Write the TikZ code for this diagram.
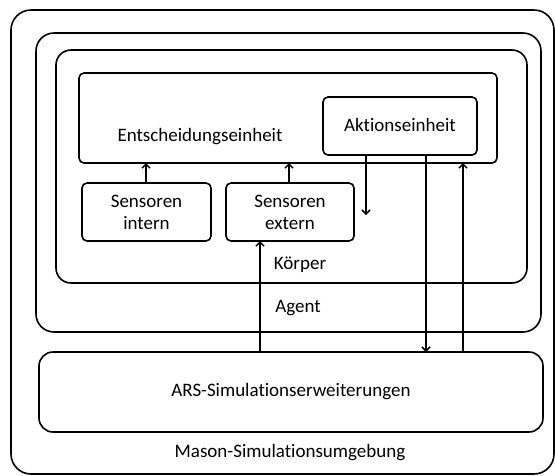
\documentclass[tikz,border=0pt]{standalone}
\usepackage{fontspec}
\setmainfont[Ligatures=NoCommon]{Carlito}
\usetikzlibrary{arrows.meta}
\begin{document}
\begin{tikzpicture}[x=1pt,y=-1pt,
  box/.style={draw,line width=1.6pt,rectangle,inner sep=0pt,outer sep=0pt},
  txt/.style={font=\fontsize{19}{22}\selectfont,inner sep=0pt},
  arr/.style={line width=1.5pt,-{Straight Barb[length=4pt,width=8pt,line width=1.5pt]}}]
\useasboundingbox (0,0) rectangle (555,475);
% boxes
\node[box,rounded corners=20pt,minimum width=543pt,minimum height=464pt] (mason) at (282.5,242) {};
\node[box,rounded corners=18pt,minimum width=505pt,minimum height=299pt] (agent) at (288.5,182.5) {};
\node[box,rounded corners=15pt,minimum width=471pt,minimum height=233pt] (koerper) at (291.5,166.5) {};
\node[box,rounded corners=5pt,minimum width=418pt,minimum height=90pt] (entsch) at (288,118) {};
\node[box,rounded corners=5pt,minimum width=154pt,minimum height=58pt] (aktion) at (400,126) {};
\node[box,rounded corners=5pt,minimum width=129pt,minimum height=58pt] (sint) at (146.5,212) {};
\node[box,rounded corners=5pt,minimum width=128pt,minimum height=58pt] (sext) at (290,212) {};
\node[box,rounded corners=14pt,minimum width=504pt,minimum height=80pt] (ars) at (291,392) {};
% labels
\node[txt] (entschlab) at (200,137) {Entscheidungseinheit};
\node[txt] (aktionlab) at (400,125) {Aktionseinheit};
\node[txt,align=center] (sintlab) at (146.5,212) {Sensoren\\intern};
\node[txt,align=center] (sextlab) at (290,212) {Sensoren\\extern};
\node[txt] (koerperlab) at (300,265) {Körper};
\node[txt] (agentlab) at (298,308) {Agent};
\node[txt] (arslab) at (291,392) {ARS-Simulationserweiterungen};
\node[txt] (masonlab) at (290,453) {Mason-Simulationsumgebung};
% x positions
\coordinate (xa) at (146,0);
\coordinate (xb) at (289,0);
\coordinate (xc) at (366,0);
\coordinate (xd) at (426,0);
\coordinate (xe) at (463,0);
\coordinate (xf) at (260,0);
\coordinate (aend) at (366,215);
% connectors
\draw[arr] (xa |- sint.north) -- (xa |- entsch.south);
\draw[arr] (xb |- sext.north) -- (xb |- entsch.south);
\draw[arr] (xc |- aktion.south) -- (aend);
\draw[arr] (xd |- aktion.south) -- (xd |- ars.north);
\draw[arr] (xe |- ars.north) -- (xe |- entsch.south);
\draw[arr] (xf |- ars.north) -- (xf |- sext.south);
\end{tikzpicture}
\end{document}
